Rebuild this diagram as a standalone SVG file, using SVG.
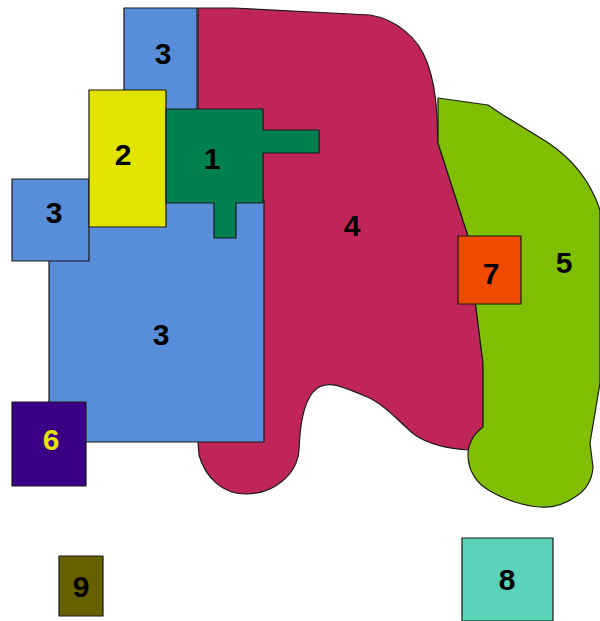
<svg xmlns="http://www.w3.org/2000/svg" width="600" height="621" viewBox="0 0 600 621">
<style>
.r{stroke:#1a1a1a;stroke-width:1.2;stroke-linejoin:round}
.t{font-family:"Liberation Sans",Arial,sans-serif;font-weight:bold;font-size:30px;text-anchor:middle;fill:#000}
</style>
<rect width="600" height="621" fill="#fff"/>
<g id="region4">
<path class="r" fill="#C0255A" d="M198,8 L233,8 L370,15 C395,19 418,37 427,62 C433,78 436,95 437,117 L438,143 L468,236 L475,300 L483,363 L483,430 L470,450 C450,449 430,445 415,435 C400,423 385,404 365,396 C345,388 326,377 313,392 C303,405 300,425 299,450 C297,476 272,494 246,494 C221,494 205,476 199,455 L198,442 Z"/>
<text class="t" x="352" y="236">4</text>
</g>
<g id="region5">
<path class="r" fill="#80BF00" d="M438,98 L488,105 L503,115 L547,142 C570,157 590,180 600,210 L600,383 L590,443 L593,467 C592,482 585,491 575,497 C565,504 552,508 540,507 C525,506 505,500 490,491 C476,483 468,470 468,455 C468,443 475,433 483,427 L483,363 L475,300 L468,236 L438,143 Z"/>
<text class="t" x="564" y="273">5</text>
</g>
<g id="region3a">
<rect class="r" fill="#588ED9" x="124" y="8" width="73" height="104"/>
<text class="t" x="163" y="64">3</text>
</g>
<g id="region3c">
<rect class="r" fill="#588ED9" x="49" y="200" width="215" height="242"/>
<text class="t" x="161" y="345">3</text>
</g>
<g id="region3b">
<rect class="r" fill="#588ED9" x="12" y="179" width="77" height="82"/>
<text class="t" x="54" y="223">3</text>
</g>
<g id="region2">
<rect class="r" fill="#E3E300" x="89" y="90" width="77" height="137"/>
<text class="t" x="123" y="165">2</text>
</g>
<g id="region1">
<path class="r" fill="#008050" d="M166,109 L263,109 L263,130 L319,130 L319,153 L263,153 L263,203 L236,203 L236,238 L214,238 L214,203 L166,203 Z"/>
<text class="t" x="212" y="169">1</text>
</g>
<g id="region7">
<rect class="r" fill="#EE4A00" x="458" y="236" width="63" height="68"/>
<text class="t" x="491" y="284">7</text>
</g>
<g id="region6">
<rect class="r" fill="#3B0086" x="12" y="402" width="74" height="84"/>
<text class="t" x="51" y="450" fill="#E3E300" style="fill:#E3E300">6</text>
</g>
<g id="region9">
<rect class="r" fill="#666000" x="59" y="556" width="44" height="60"/>
<text class="t" x="81" y="597">9</text>
</g>
<g id="region8">
<rect class="r" fill="#59D2B8" x="462" y="538" width="91" height="83"/>
<text class="t" x="507" y="590">8</text>
</g>
</svg>
